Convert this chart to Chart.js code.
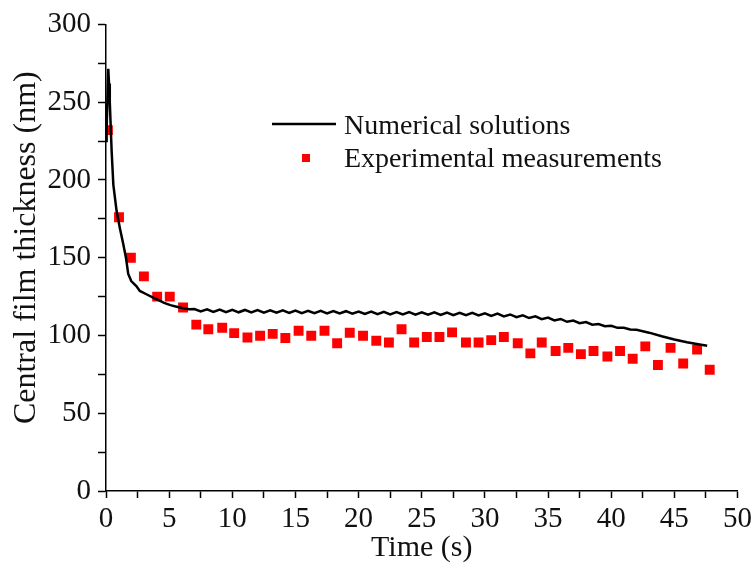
<!DOCTYPE html>
<html>
<head>
<meta charset="utf-8">
<script src="https://cdn.jsdelivr.net/npm/chart.js@4.4.1/dist/chart.umd.min.js"></script>
<style>
html,body{margin:0;padding:0;background:#fff;}
#wrap{width:756px;height:570px;position:relative;}
</style>
</head>
<body>
<div id="wrap"><canvas id="c" width="756" height="570"></canvas></div>
<script>
// Numerical solutions (line)
const numTime = [0.0, 0.05, 0.18, 0.24, 0.3, 0.45, 0.58, 0.84, 1.1, 1.37, 1.58, 1.76, 2.0, 2.4, 2.68, 3.2, 3.73, 4.2, 4.6, 5.1, 5.6, 6.1, 6.6,
  7, 7.5, 8, 8.5, 9, 9.5, 10, 10.5, 11, 11.5, 12, 12.5, 13, 13.5, 14, 14.5, 15, 15.5, 16, 16.5, 17, 17.5, 18, 18.5, 19, 19.5,
  20, 20.5, 21, 21.5, 22, 22.5, 23, 23.5, 24, 24.5, 25, 25.5, 26, 26.5, 27, 27.5, 28, 28.5, 29, 29.5,
  30, 30.5, 31, 31.5, 32, 32.5, 33, 33.5, 34, 34.5, 35, 35.5, 36, 36.5, 37, 37.5, 38, 38.5, 39, 39.5,
  40, 40.5, 41, 41.5, 42, 43, 44, 45, 46, 47, 47.6];
const numThickness = [225, 233, 271.5, 262, 250, 218, 197, 180, 169, 158.6, 150, 139.5, 135, 131.8, 128.6, 126.5, 124.3, 122.5, 121, 119.5, 118.5, 117.5, 116.8,
  117, 115.5, 116.8, 115.2, 116.6, 115, 116.5, 114.9, 116.4, 114.8, 116.3, 114.7, 116.2, 114.6, 116.1, 114.5, 116, 114.4, 115.9, 114.3, 115.8, 114.2, 115.7, 114.1, 115.6, 114,
  115.4, 113.8, 115.3, 113.7, 115.2, 113.6, 115.1, 113.5, 115, 113.4, 114.9, 113.3, 114.8, 113.2, 114.7, 113.1, 114.6, 113, 114.5, 112.9,
  114.3, 112.6, 114, 112.3, 113.5, 111.8, 113, 111.2, 112.3, 110.5, 111.5, 109.7, 110.6, 108.8, 109.6, 107.9, 108.6, 106.9, 107.4, 105.9,
  106.2, 104.9, 105, 103.8, 103.6, 101.8, 99.5, 97.4, 95.6, 94.2, 93.4];

// Experimental measurements (squares)
const expTime = [0.15, 1.03, 1.97, 3.0, 4.05, 5.05, 6.1, 7.15, 8.1, 9.2, 10.15, 11.2, 12.2, 13.2, 14.2, 15.25, 16.25, 17.3, 18.3, 19.3,
  20.35, 21.4, 22.4, 23.4, 24.4, 25.4, 26.4, 27.4, 28.5, 29.5, 30.5, 31.5, 32.6, 33.6, 34.5, 35.6, 36.6, 37.6, 38.6, 39.7,
  40.7, 41.7, 42.7, 43.7, 44.7, 45.7, 46.8, 47.8];
const expThickness = [232, 176, 150, 138, 125, 125, 118, 107, 104, 105, 101.5, 98.7, 99.8, 101, 98.4, 103, 99.8, 103, 95, 101.7,
  99.8, 96.6, 95.5, 104, 95.5, 99, 99, 102, 95.5, 95.5, 97, 99, 95, 88.5, 95.5, 90, 92, 88, 90, 86.5,
  90, 85, 93, 81, 92, 82, 91, 78];

const seriesNames = ['Numerical solutions', 'Experimental measurements'];
const xTitle = 'Time (s)';
const yTitle = 'Central film thickness (nm)';

const FONT = '"Liberation Serif", "Times New Roman", serif';

const legendPlugin = {
  id: 'inLegend',
  afterDraw(chart) {
    const ctx = chart.ctx;
    const a = chart.chartArea;
    ctx.save();
    ctx.fillStyle = '#111';
    ctx.font = '28px ' + FONT;
    ctx.textBaseline = 'alphabetic';
    ctx.strokeStyle = '#000';
    ctx.lineWidth = 2.5;
    ctx.beginPath();
    ctx.moveTo(a.left + 166, 124);
    ctx.lineTo(a.left + 230, 124);
    ctx.stroke();
    ctx.fillText(seriesNames[0], a.left + 238, 134);
    ctx.fillStyle = '#ff0000';
    ctx.fillRect(a.left + 196, 154, 8, 8);
    ctx.fillStyle = '#111';
    ctx.fillText(seriesNames[1], a.left + 238, 167);
    // y-axis title
    ctx.translate(27, (a.top + a.bottom) / 2 - 10);
    ctx.rotate(-Math.PI / 2);
    ctx.font = '32px ' + FONT;
    ctx.textAlign = 'center';
    ctx.textBaseline = 'middle';
    ctx.fillText(yTitle, 0, 0);
    ctx.restore();
  }
};

new Chart(document.getElementById('c'), {
  type: 'scatter',
  data: {
    datasets: [
      {
        label: seriesNames[0],
        data: numTime.map((t, i) => ({x: t, y: numThickness[i]})),
        showLine: true,
        borderColor: '#000',
        borderWidth: 2.5,
        pointRadius: 0,
        tension: 0,
        fill: false
      },
      {
        label: seriesNames[1],
        data: expTime.map((t, i) => ({x: t, y: expThickness[i]})),
        showLine: false,
        pointStyle: 'rect',
        pointRadius: 7,
        backgroundColor: '#ff0000',
        borderColor: '#ff0000',
        borderWidth: 0
      }
    ]
  },
  options: {
    responsive: false,
    animation: false,
    layout: { padding: { top: 23, right: 14, left: 0, bottom: 0 } },
    plugins: { legend: { display: false }, tooltip: { enabled: false } },
    scales: {
      x: {
        type: 'linear',
        min: 0, max: 50,
        afterFit(s) { s.height = 79; },
        border: { display: true, color: '#000', width: 1.5 },
        grid: { drawOnChartArea: false, drawTicks: true, tickLength: 7, tickColor: '#000', tickWidth: 1.5 },
        ticks: {
          stepSize: 2.5,
          autoSkip: false,
          maxRotation: 0,
          color: '#111',
          padding: 4,
          font: { family: FONT, size: 29 },
          callback: v => (v % 5 === 0 ? String(v) : '')
        },
        title: { display: true, text: xTitle, color: '#111', font: { family: FONT, size: 30 }, padding: { top: 0, bottom: 4 } }
      },
      y: {
        type: 'linear',
        min: 0, max: 300,
        afterFit(s) { s.width = 106; },
        border: { display: true, color: '#000', width: 1.5 },
        grid: { drawOnChartArea: false, drawTicks: true, tickLength: 8, tickColor: '#000', tickWidth: 1.5 },
        ticks: {
          stepSize: 25,
          autoSkip: false,
          color: '#111',
          padding: 7,
          font: { family: FONT, size: 29 },
          callback: v => (v % 50 === 0 ? String(v) : '')
        },
        title: { display: false, text: yTitle }
      }
    }
  },
  plugins: [legendPlugin]
});
</script>
</body>
</html>
